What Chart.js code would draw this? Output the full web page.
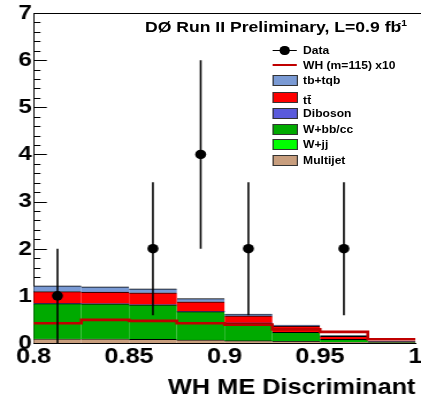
<!DOCTYPE html>
<html>
<head>
<meta charset="utf-8">
<script src="https://cdn.jsdelivr.net/npm/chart.js@4.4.1/dist/chart.umd.min.js"></script>
<style>
  html, body { margin: 0; padding: 0; background: #fff; overflow: hidden; }
  #wrap { position: absolute; left: 0; top: 0; width: 366px; height: 401px;
          transform: scaleX(1.1503); transform-origin: 0 0; }
  #wrap canvas { position: absolute; left: 0; top: 0; }
  .txt { position: absolute; font-family: "Liberation Sans", Arial, sans-serif; font-weight: bold; color: #000; white-space: nowrap; }
  #title { left: 126px; top: 19px; font-size: 15.3px; line-height: 1; }
  #title sup { font-size: 9px; margin-left: -3px; vertical-align: 6px; line-height: 0; }
  .row { position: absolute; left: 236.5px; height: 12px; width: 130px; }
  .sym { position: absolute; left: 0; top: 0; width: 21.7px; height: 12px; }
  .lab { position: absolute; left: 27px; top: 0; font-size: 10.5px; line-height: 12px; }
  .box { position: absolute; left: 0; top: 1px; width: 20px; height: 9px; border: 1px solid #333; }
  .hline { position: absolute; left: 0; top: 5px; width: 21.7px; height: 2px; }
  .dot { position: absolute; left: 6.6px; top: 1.5px; width: 8.5px; height: 9.5px; border-radius: 50%; background: #000; }
</style>
</head>
<body>
<div id="wrap">
  <canvas id="c"></canvas>
  <div id="title" class="txt">DØ Run II Preliminary, L=0.9 fb<sup>-1</sup></div>
  <div id="legend"></div>
</div>
<script>
// ---- data ----
const binEdges   = [0.8, 0.825, 0.85, 0.875, 0.9, 0.925, 0.95, 0.975, 1.0];
const multijet   = [0.09, 0.09, 0.08, 0.065, 0.05, 0.04, 0.02, 0.01];
const wjj        = [0, 0, 0, 0, 0, 0, 0, 0];
const wbbcc      = [0.745, 0.74, 0.73, 0.60, 0.37, 0.185, 0.06, 0.015];
const diboson    = [0, 0, 0, 0, 0, 0, 0, 0];
const ttbar      = [0.255, 0.25, 0.255, 0.21, 0.155, 0.135, 0.06, 0.01];
const tbtqb      = [0.125, 0.11, 0.085, 0.065, 0.04, 0.02, 0.015, 0.005];
const whSignal   = [0.42, 0.49, 0.47, 0.42, 0.39, 0.29, 0.235, 0.08];
const dataCounts = [1, 0, 2, 4, 2, 0, 2, 0];
const dataLow    = [0, null, 0.59, 2, 0.59, null, 0.59, null];
const dataHigh   = [2, null, 3.41, 6, 3.41, null, 3.41, null];
const xTickLabels = ['0.8', '0.85', '0.9', '0.95', '1'];
const yTickLabels = ['0', '1', '2', '3', '4', '5', '6', '7'];

const legendItems = [
  { label: 'Data', kind: 'data' },
  { label: 'WH (m=115) x10', kind: 'line', color: '#c00000' },
  { label: 'tb+tqb', kind: 'box', color: '#7a9ad4' },
  { label: 'tt\u0304', kind: 'box', color: '#ff0000' },
  { label: 'Diboson', kind: 'box', color: '#5a5adc' },
  { label: 'W+bb/cc', kind: 'box', color: '#00aa00' },
  { label: 'W+jj', kind: 'box', color: '#00ff00' },
  { label: 'Multijet', kind: 'box', color: '#c89e7e' }
];

// ---- derived structures ----
const centers = binEdges.slice(0, -1).map((e, i) => (e + binEdges[i + 1]) / 2);
const toBar = arr => arr.map((v, i) => ({ x: centers[i], y: v }));
const whStep = whSignal.map((v, i) => ({ x: binEdges[i], y: v }))
  .concat([{ x: binEdges[binEdges.length - 1], y: whSignal[whSignal.length - 1] }]);
const dataPts = [];
const errPts = [];
dataCounts.forEach((n, i) => {
  if (n > 0) {
    dataPts.push({ x: centers[i], y: n });
    errPts.push({ x: centers[i], y: dataLow[i] }, { x: centers[i], y: dataHigh[i] }, { x: centers[i], y: null });
  }
});

const barStyle = (color) => ({
  type: 'bar', backgroundColor: color, borderColor: '#000',
  borderWidth: { top: 1, right: 0, bottom: 0, left: 0 }, borderSkipped: false,
  barPercentage: 1, categoryPercentage: 1, order: 3, yAxisID: 'y'
});

// ---- legend (HTML) ----
const legendTops = [44, 58.5, 74, 91, 107, 122.5, 138, 154];
const leg = document.getElementById('legend');
legendItems.forEach((it, i) => {
  const row = document.createElement('div');
  row.className = 'row';
  row.style.top = legendTops[i] + 'px';
  const sym = document.createElement('div');
  sym.className = 'sym';
  if (it.kind === 'data') {
    sym.innerHTML = '<div class="hline" style="background:#000;height:1.5px;top:5.5px"></div><div class="dot"></div>';
  } else if (it.kind === 'line') {
    sym.innerHTML = '<div class="hline" style="background:' + it.color + '"></div>';
  } else {
    sym.innerHTML = '<div class="box" style="background:' + it.color + '"></div>';
  }
  const lab = document.createElement('div');
  lab.className = 'txt lab';
  lab.textContent = it.label;
  if (it.label === 'tt\u0304') lab.style.top = '3px';
  row.appendChild(sym);
  row.appendChild(lab);
  leg.appendChild(row);
});

// ---- plugin: inner ticks on y axis and top frame line ----
const framePlugin = {
  id: 'frame',
  beforeDatasetsDraw(chart) {
    const { ctx, chartArea: a, scales } = chart;
    const y = scales.y;
    ctx.save();
    ctx.strokeStyle = '#000';
    ctx.lineWidth = 1;
    for (let k = 0; k <= 35; k++) {
      const v = k * 0.2;
      const py = Math.round(y.getPixelForValue(v)) + 0.5;
      const major = k % 5 === 0;
      ctx.beginPath();
      ctx.moveTo(a.left, py);
      ctx.lineTo(a.left + (major ? 11.5 : 6), py);
      ctx.stroke();
    }
    ctx.beginPath();
    ctx.moveTo(a.left, a.top + 0.5);
    ctx.lineTo(chart.width, a.top + 0.5);
    ctx.stroke();
    ctx.restore();
  }
};

const font = { family: '"Liberation Sans", Arial, sans-serif', weight: 'bold' };

new Chart(document.getElementById('c'), {
  type: 'bar',
  data: {
    datasets: [
      Object.assign({ label: 'Multijet', data: toBar(multijet) }, barStyle('#c89e7e')),
      Object.assign({ label: 'W+jj', data: toBar(wjj) }, barStyle('#00ff00')),
      Object.assign({ label: 'W+bb/cc', data: toBar(wbbcc) }, barStyle('#00aa00')),
      Object.assign({ label: 'Diboson', data: toBar(diboson) }, barStyle('#5a5adc')),
      Object.assign({ label: 'tt\u0304', data: toBar(ttbar) }, barStyle('#ff0000')),
      Object.assign({ label: 'tb+tqb', data: toBar(tbtqb) }, barStyle('#7a9ad4')),
      {
        type: 'line', label: 'WH (m=115) x10', data: whStep, yAxisID: 'yl', order: 2,
        stepped: 'before', borderColor: '#c00000', borderWidth: 2.6, pointRadius: 0,
        fill: false, tension: 0
      },
      {
        type: 'line', label: 'err', data: errPts, yAxisID: 'yl', order: 1,
        borderColor: '#000', borderWidth: 1.6, pointRadius: 0, spanGaps: false, fill: false
      },
      {
        type: 'line', label: 'Data', data: dataPts, yAxisID: 'yl', order: 0,
        showLine: false, pointRadius: 4.8, pointBackgroundColor: '#000', pointBorderColor: '#000',
        pointBorderWidth: 0
      }
    ]
  },
  options: {
    responsive: true,
    maintainAspectRatio: false,
    devicePixelRatio: 1,
    animation: false,
    events: [],
    layout: { padding: { top: 13, right: 1.65, left: 0, bottom: 0 } },
    plugins: { legend: { display: false }, tooltip: { enabled: false } },
    scales: {
      x: {
        type: 'linear', min: 0.8, max: 1.0, offset: false, stacked: true,
        grid: { display: false, drawTicks: false },
        border: { display: true, color: '#000', width: 1 },
        ticks: {
          stepSize: 0.05, padding: 1, color: '#000', autoSkip: false, maxRotation: 0,
          font: Object.assign({ size: 22 }, font),
          callback: (v, i) => xTickLabels[i]
        },
        title: {
          display: true, text: 'WH ME Discriminant', align: 'end', color: '#000',
          padding: { top: 0, bottom: 0 }, font: Object.assign({ size: 22 }, font)
        },
        afterFit: s => { s.height = 58; s.paddingLeft = 0; s.paddingRight = 0; }
      },
      y: {
        type: 'linear', min: 0, max: 7, stacked: true,
        grid: { display: false, drawTicks: false },
        border: { display: true, color: '#000', width: 1 },
        ticks: {
          stepSize: 1, padding: 1.5, color: '#000',
          font: Object.assign({ size: 21 }, font),
          callback: (v, i) => yTickLabels[i]
        },
        afterFit: s => { s.width = 29.2; s.paddingTop = 0; s.paddingBottom = 0; }
      },
      yl: {
        type: 'linear', min: 0, max: 7, display: false, stacked: false
      }
    }
  },
  plugins: [framePlugin]
});
</script>
</body>
</html>
